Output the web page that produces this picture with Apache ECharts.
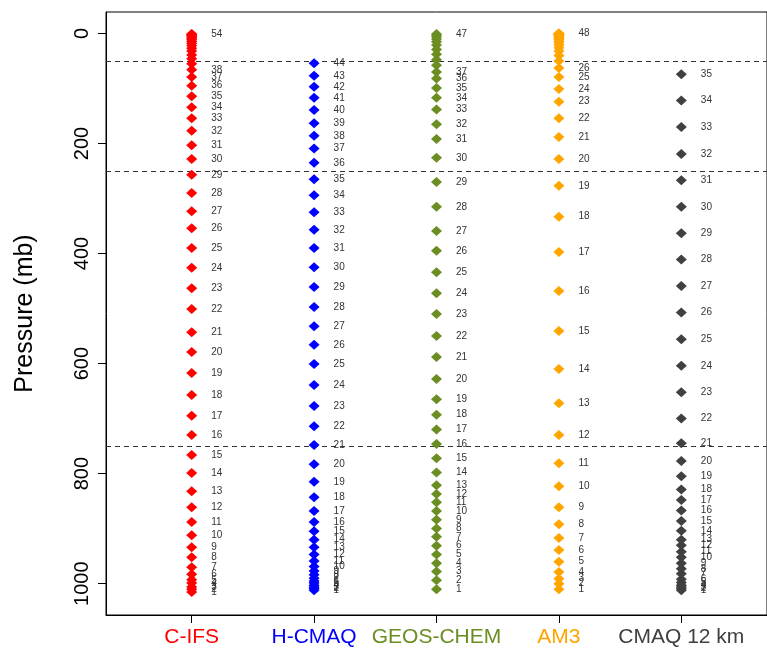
<!DOCTYPE html>
<html>
<head>
<meta charset="utf-8">
<script src="https://cdn.jsdelivr.net/npm/echarts@6/dist/echarts.min.js"></script>
<style>
  html, body { margin: 0; padding: 0; background: #fff; }
  #chart { width: 767px; height: 660px; }
</style>
</head>
<body>
<div id="chart"></div>
<script>
// Model names along the x axis and their colours
const models = ['C-IFS', 'H-CMAQ', 'GEOS-CHEM', 'AM3', 'CMAQ 12 km'];
const modelColors = ['#ff0000', '#0000ff', '#6b8e23', '#ffa500', '#404040'];

// Mid-layer pressure (mb) of each vertical level, level 1 (surface) first
const cifsPressure = [1015, 1010, 1006, 999, 993, 983, 970, 952, 934, 912, 888, 861, 832, 799, 766,
  730, 695, 657, 617, 579, 543, 501, 463, 426, 390, 354, 323, 290, 257, 228, 203, 177, 154, 134,
  114, 95, 79, 66, 55, 46, 39, 32, 27, 22, 18, 14.5, 11.5, 9, 7, 5, 3.5, 2.5, 1.5, 1];
const hcmaqPressure = [1012, 1009, 1006, 1003, 999, 995, 990, 984, 977, 969, 959, 947, 934, 920, 905,
  888, 868, 843, 815, 783, 748, 714, 677, 639, 601, 566, 532, 497, 461, 425, 390, 357, 325, 294,
  265, 235, 209, 186, 163, 139, 117, 97, 77, 54];
const geosPressure = [1010, 994, 978, 963, 947, 931, 915, 900, 884, 868, 852, 837, 821, 798, 772,
  746, 720, 693, 665, 628, 588, 550, 510, 472, 434, 395, 359, 315, 270, 226, 192, 165, 138, 117,
  99, 82, 70, 58, 48, 38, 29, 21, 15, 10, 6, 3, 1];
const am3Pressure = [1010, 1000, 991, 979, 960, 939, 917, 892, 861, 823, 781, 730, 672, 610, 541,
  468, 397, 333, 277, 228, 188, 154, 124, 101, 79, 63, 50, 40, 32, 26, 21, 17, 13.5, 11, 8.8, 7,
  5.6, 4.5, 3.6, 2.9, 2.3, 1.8, 1.4, 1.1, 0.8, 0.5, 0.3, 0.1];
const cmaqPressure = [1012, 1009, 1006, 1003, 998, 992, 982, 973, 963, 952, 942, 930, 920, 904, 886,
  867, 848, 829, 805, 777, 745, 700, 652, 604, 556, 507, 459, 411, 363, 315, 267, 219, 170, 122, 74];

// Highest level numbered one by one (the model top is always numbered too)
const numberedThrough = [38, 44, 37, 26, 35];

// Horizontal dashed reference pressures (mb)
const referenceLevels = [50, 250, 750];

// Pressure axis ticks
const pressureTicks = [0, 200, 400, 600, 800, 1000];

const profiles = [cifsPressure, hcmaqPressure, geosPressure, am3Pressure, cmaqPressure];
const fontFamily = '"Liberation Sans", Arial, Helvetica, sans-serif';

const chart = echarts.init(document.getElementById('chart'), null, { renderer: 'canvas' });

const series = profiles.map((pressures, m) => {
  const top = pressures.length;
  const s = {
    name: models[m],
    type: 'scatter',
    symbol: 'diamond',
    symbolSize: [11, 10],
    itemStyle: { color: modelColors[m], opacity: 1 },
    label: {
      position: 'right',
      distance: 14,
      color: '#333',
      fontSize: 10,
      fontFamily: fontFamily,
      formatter: p => String(p.data.level)
    },
    emphasis: { disabled: true },
    data: pressures.map((p, i) => ({
      value: [m + 1, p],
      level: i + 1,
      label: { show: (i + 1) <= numberedThrough[m] || (i + 1) === top }
    })),
    z: 3
  };
  if (m === 0) {
    s.markLine = {
      silent: true,
      symbol: ['none', 'none'],
      label: { show: false },
      lineStyle: { type: [5, 4], color: '#333', width: 1.2 },
      data: referenceLevels.map(v => ({ yAxis: v })),
      z: 2
    };
  }
  return s;
});

chart.setOption({
  animation: false,
  backgroundColor: '#fff',
  grid: {
    left: 106, top: 12, width: 675, height: 603,
    show: true, borderColor: '#000', borderWidth: 1, backgroundColor: 'transparent'
  },
  xAxis: {
    type: 'value',
    min: 0.3, max: 5.7,
    axisLine: { show: true, onZero: false, lineStyle: { color: '#000', width: 1 } },
    axisTick: { show: true, length: 8, customValues: [1, 2, 3, 4, 5], lineStyle: { color: '#000' } },
    axisLabel: {
      customValues: [1, 2, 3, 4, 5],
      margin: 12,
      fontSize: 21,
      fontFamily: fontFamily,
      formatter: v => models[Math.round(v) - 1],
      color: v => modelColors[Math.round(v) - 1]
    },
    splitLine: { show: false }
  },
  yAxis: {
    type: 'value',
    inverse: true,
    min: -39, max: 1057,
    name: 'Pressure (mb)',
    nameLocation: 'middle',
    nameGap: 68,
    nameTextStyle: { fontSize: 25, color: '#000', fontFamily: fontFamily },
    axisLine: { show: true, onZero: false, lineStyle: { color: '#000', width: 1 } },
    axisTick: { show: true, length: 8, customValues: pressureTicks, lineStyle: { color: '#000' } },
    axisLabel: {
      customValues: pressureTicks,
      rotate: 90,
      margin: 14,
      fontSize: 20,
      color: '#000',
      fontFamily: fontFamily,
      formatter: v => String(v)
    },
    splitLine: { show: false }
  },
  series: series
});
</script>
</body>
</html>
